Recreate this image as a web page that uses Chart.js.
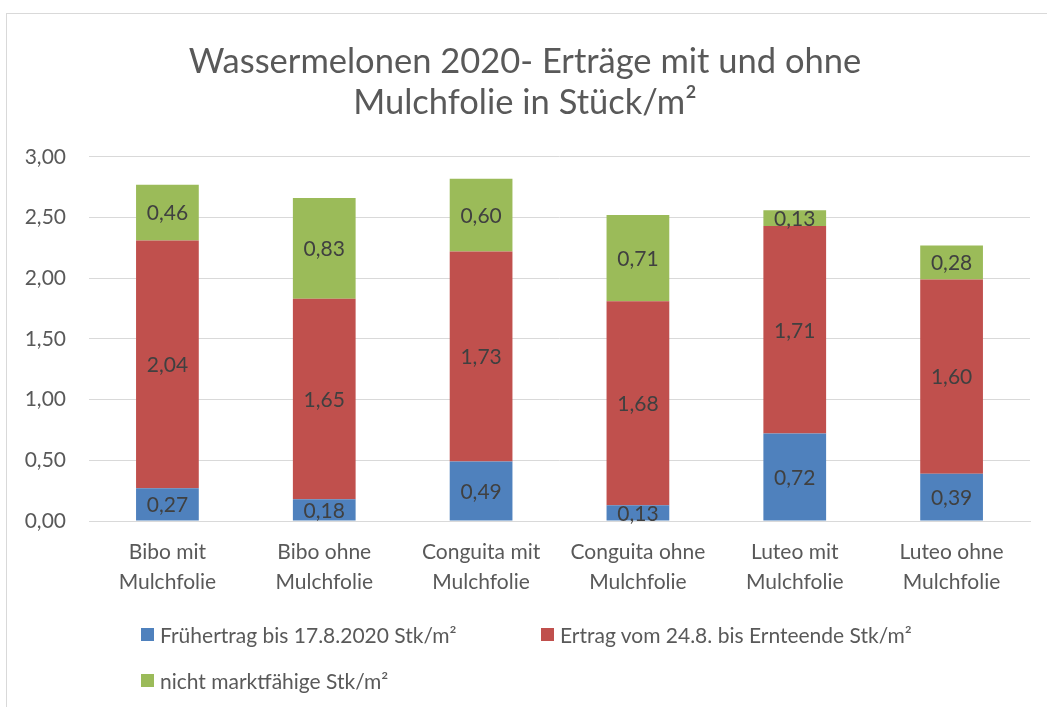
<!DOCTYPE html>
<html>
<head>
<meta charset="utf-8">
<script src="https://cdn.jsdelivr.net/npm/chart.js@4/dist/chart.umd.min.js"></script>
<style>
  html, body { margin: 0; padding: 0; background: #fff; overflow: hidden; }
  body { width: 1047px; height: 707px; position: relative; font-family: Lato, "Open Sans", sans-serif; }
  #frame { position: absolute; left: 6px; top: 13px; width: 1100px; height: 800px; border: 1px solid #d9d9d9; }
  #wrap { position: absolute; left: 0; top: 0; width: 1047px; height: 707px; }
  .leg { position: absolute; font-size: 21px; color: #595959; white-space: nowrap; line-height: 22px; }
  .leg span.box { position: absolute; left: -19px; top: 4px; width: 13px; height: 13px; }
</style>
</head>
<body>
<div id="frame"></div>
<div id="wrap"><canvas id="melonChart" width="1047" height="707"></canvas></div>
<div id="legend"></div>
<script>
// categories (two-line labels)
const categories = [
    ["Bibo mit", "Mulchfolie"],
    ["Bibo ohne", "Mulchfolie"],
    ["Conguita mit", "Mulchfolie"],
    ["Conguita ohne", "Mulchfolie"],
    ["Luteo mit", "Mulchfolie"],
    ["Luteo ohne", "Mulchfolie"]
];
const seriesNames = [
    "Frühertrag bis 17.8.2020 Stk/m²",
    "Ertrag vom 24.8. bis Ernteende Stk/m²",
    "nicht marktfähige Stk/m²"
];
const fruehertrag = [0.27, 0.18, 0.49, 0.13, 0.72, 0.39];
const ertrag = [2.04, 1.65, 1.73, 1.68, 1.71, 1.60];
const nichtMarktfaehig = [0.46, 0.83, 0.60, 0.71, 0.13, 0.28];
const yTicks = [0, 0.5, 1, 1.5, 2, 2.5, 3];

const colors = ["#4f81bd", "#c0504d", "#9bbb59"];
const fontFamily = "Lato, 'Open Sans', sans-serif";

function fmt(v) {
    return v.toFixed(2).replace(".", ",");
}

// draws the value in the middle of every bar segment
const valueLabels = {
    id: "valueLabels",
    afterDatasetsDraw(chart) {
        let ctx = chart.ctx;
        ctx.save();
        ctx.font = "21px " + fontFamily;
        ctx.fillStyle = "#404040";
        ctx.textAlign = "center";
        ctx.textBaseline = "middle";
        chart.data.datasets.forEach((ds, i) => {
            chart.getDatasetMeta(i).data.forEach((bar, j) => {
                let mid = (bar.y + bar.base) / 2;
                ctx.fillText(fmt(ds.data[j]), bar.x, mid + 1);
            });
        });
        ctx.restore();
    }
};

let ctx = document.getElementById("melonChart").getContext("2d");
let chart = new Chart(ctx, {
    type: "bar",
    data: {
        labels: categories,
        datasets: [
            { label: seriesNames[0], data: fruehertrag, backgroundColor: colors[0] },
            { label: seriesNames[1], data: ertrag, backgroundColor: colors[1] },
            { label: seriesNames[2], data: nichtMarktfaehig, backgroundColor: colors[2] }
        ]
    },
    options: {
        responsive: false,
        animation: false,
        layout: { padding: { top: 0, right: 17, bottom: 0, left: 20 } },
        datasets: { bar: { barPercentage: 0.4, categoryPercentage: 1 } },
        plugins: {
            legend: { display: false },
            tooltip: { enabled: false },
            title: {
                display: true,
                text: ["Wassermelonen 2020- Erträge mit und ohne", "Mulchfolie in Stück/m²"],
                color: "#595959",
                font: { family: fontFamily, size: 34.5, weight: "normal", lineHeight: 1.2 },
                padding: { top: 41, bottom: 33 }
            }
        },
        scales: {
            x: {
                stacked: true,
                grid: { display: false, drawTicks: false },
                border: { display: true, color: "#d9d9d9", width: 1 },
                ticks: { color: "#595959", padding: 16, font: { family: fontFamily, size: 21, lineHeight: 1.43 }, maxRotation: 0, autoSkip: false },
                afterFit: (s) => { s.height = 186; }
            },
            y: {
                stacked: true,
                min: 0,
                max: 3,
                afterBuildTicks: (s) => { s.ticks = yTicks.map(v => ({ value: v })); },
                grid: { color: "#d9d9d9", drawTicks: false },
                border: { display: false },
                ticks: { color: "#595959", padding: 23, callback: (v) => fmt(v), font: { family: fontFamily, size: 21 } },
                afterFit: (s) => { s.width = 69; }
            }
        }
    },
    plugins: [valueLabels]
});

// legend in the Excel layout: two items on the first row, one on the second
const legendPos = [[160, 624], [560, 624], [160, 670]];
let legend = document.getElementById("legend");
chart.data.datasets.forEach((ds, i) => {
    let item = document.createElement("div");
    item.className = "leg";
    item.style.left = legendPos[i][0] + "px";
    item.style.top = legendPos[i][1] + "px";
    item.innerHTML = '<span class="box" style="background:' + ds.backgroundColor + '"></span>' + ds.label;
    legend.appendChild(item);
});
</script>
</body>
</html>
